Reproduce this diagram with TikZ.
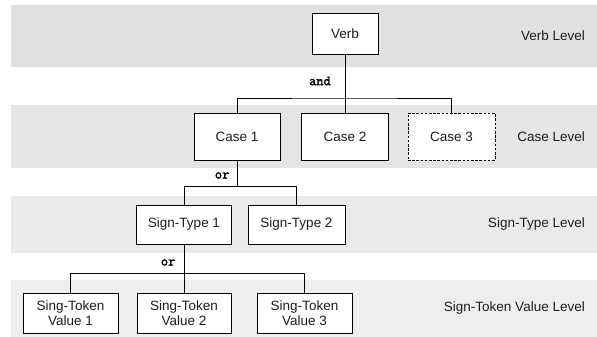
\documentclass[tikz,border=0pt]{standalone}
\usepackage{fontspec}
\setmainfont{Liberation Sans}
\newfontfamily\opfont{Latin Modern Mono}[AutoFakeBold=2.2]
\definecolor{bandA}{RGB}{223,224,226}
\definecolor{bandB}{RGB}{228,229,230}
\definecolor{bandC}{RGB}{233,234,235}
\definecolor{bandD}{RGB}{237,238,239}
\definecolor{ink}{RGB}{30,30,30}
\tikzset{
  band/.style={fill=#1, draw=none},
  box/.style={draw=black, line width=0.8pt, fill=white, inner sep=0pt,
    font=\fontsize{13.5}{15}\selectfont, text=ink, align=center},
  optbox/.style={box, dash pattern=on 2.6pt off 1.6pt},
  levellabel/.style={anchor=east, inner sep=0pt, text=ink,
    font=\fontsize{13.5}{15}\selectfont},
  oplabel/.style={anchor=east, inner sep=0pt, text=black,
    font=\opfont\bfseries\fontsize{14}{15}\selectfont},
  link/.style={draw=black, line width=0.8pt}
}
\begin{document}
\begin{tikzpicture}[x=1pt, y=-1pt]
  \useasboundingbox (0,0) rectangle (597,337);
  % level bands
  \fill[band=bandA] (11,5) rectangle (597,67);
  \fill[band=bandB] (11,105) rectangle (597,168);
  \fill[band=bandC] (11,196) rectangle (597,253);
  \fill[band=bandD] (11,280) rectangle (597,337);

  % level names
  \node[levellabel] (lv1) at (585,36) {Verb Level};
  \node[levellabel] (lv2) at (585,136.5) {Case Level};
  \node[levellabel] (lv3) at (585,224.5) {Sign-Type Level};
  \node[levellabel] (lv4) at (585,308.5) {Sign-Token Value Level};

  % boxes
  \node[box, minimum width=66pt, minimum height=41pt] (verb) at (345,33.5) {Verb};
  \node[box, minimum width=86pt, minimum height=47pt] (case1) at (237,136.5) {Case 1};
  \node[box, minimum width=87pt, minimum height=47pt] (case2) at (345,136.5) {Case 2};
  \node[optbox, minimum width=87pt, minimum height=47pt] (case3) at (451.5,136.5) {Case 3};
  \node[box, minimum width=95pt, minimum height=39pt] (st1) at (184,224.5) {Sign-Type 1};
  \node[box, minimum width=97pt, minimum height=39pt] (st2) at (296.5,224.5) {Sign-Type 2};
  \node[box, minimum width=95pt, minimum height=40pt] (val1) at (70.5,313) {Sing-Token\\Value 1};
  \node[box, minimum width=94pt, minimum height=40pt] (val2) at (184,313) {Sing-Token\\Value 2};
  \node[box, minimum width=95pt, minimum height=40pt] (val3) at (304.5,313) {Sing-Token\\Value 3};

  % branch points
  \coordinate (busA) at (345,98);
  \coordinate (busB) at (237,186.5);
  \coordinate (busC) at (184,273.5);

  % connectors
  \draw[link] (verb.south) -- (case2.north);
  \draw[link] (case1.north) |- (busA) -| (case3.north);
  \draw[link] (case1.south) -- (busB);
  \draw[link] (st1.north) |- (busB) -| (st2.north);
  \draw[link] (st1.south) -- (val2.north);
  \draw[link] (val1.north) |- (busC) -| (val3.north);

  % operators
  \node[oplabel] (opA) at (331,81) {and};
  \node[oplabel] (opB) at (229.5,175.5) {or};
  \node[oplabel] (opC) at (175.5,262.5) {or};
\end{tikzpicture}
\end{document}
